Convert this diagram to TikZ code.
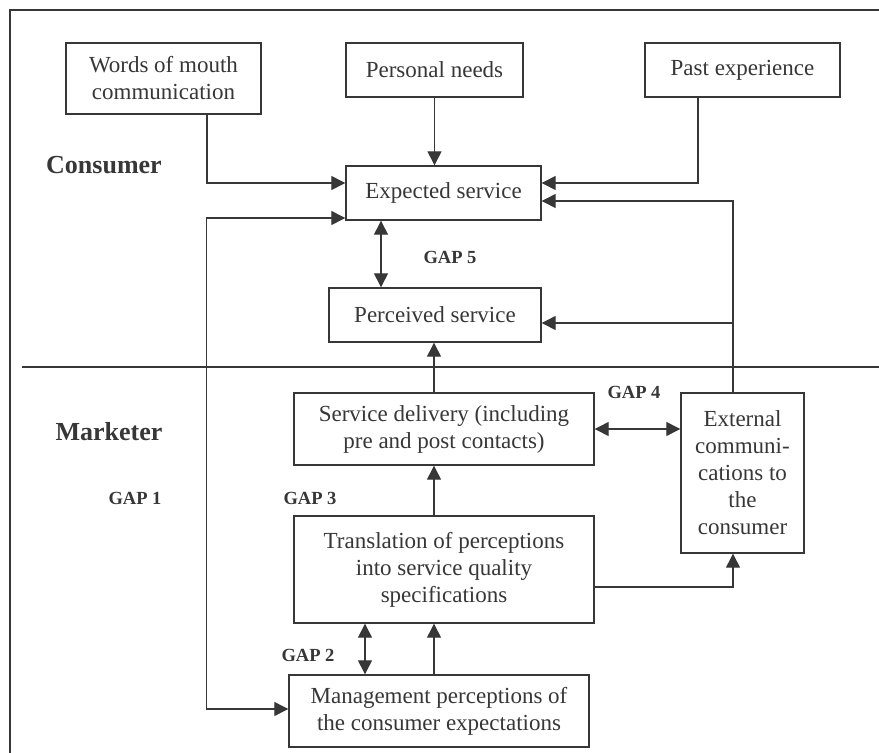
\documentclass[tikz,border=0pt]{standalone}
\usepackage{fontspec}
\setmainfont{Liberation Serif}
\usetikzlibrary{arrows.meta}
\definecolor{ink}{RGB}{55,55,55}
\begin{document}
\begin{tikzpicture}[x=1pt,y=-1pt,
 box/.style={draw=ink, line width=1.4pt, text=ink, align=center, inner sep=0pt, font=\fontsize{23}{27}\selectfont},
 conn/.style={draw=ink, line width=1.3pt},
 arr/.style={conn, -{Triangle[length=14pt,width=14pt]}},
 darr/.style={conn, {Triangle[length=14pt,width=14pt]}-{Triangle[length=14pt,width=14pt]}},
 gap/.style={text=ink, font=\bfseries\fontsize{18.5}{22}\selectfont},
 side/.style={text=ink, font=\bfseries\fontsize{26}{30}\selectfont}]
\useasboundingbox (0,0) rectangle (879,753);
\fill[white] (0,0) rectangle (879,753);
\draw[ink, line width=2pt] (10,760) -- (10,10) -- (890,10);
\draw[conn] (22,367) -- (890,367);

\node[box, minimum width=195pt, minimum height=71pt] (wom) at (163.5,78.5) {Words of mouth\\communication};
\node[box, minimum width=177pt, minimum height=54pt] (pn) at (434.5,70) {Personal needs};
\node[box, minimum width=195pt, minimum height=54pt] (pe) at (742.5,70) {Past experience};
\node[box, minimum width=195pt, minimum height=54pt] (es) at (443.5,193) {Expected service};
\node[box, minimum width=212pt, minimum height=54pt] (ps) at (435,315) {Perceived service};
\node[box, minimum width=300pt, minimum height=72pt] (sd) at (444,429) {Service delivery (including\\pre and post contacts)};
\node[box, minimum width=123pt, minimum height=160pt] (ec) at (742.5,473) {External\\communi-\\cations to\\the\\consumer};
\node[box, minimum width=300pt, minimum height=107pt] (tr) at (444,569.5) {Translation of perceptions\\into service quality\\specifications};
\node[box, minimum width=300pt, minimum height=72pt] (mp) at (439,711) {Management perceptions of\\the consumer expectations};

\node[side] (consumer) at (104,165) {Consumer};
\node[side] (marketer) at (109,432) {Marketer};
\node[gap] (g1) at (135,498) {GAP 1};
\node[gap] (g2) at (308,655) {GAP 2};
\node[gap] (g3) at (310,498) {GAP 3};
\node[gap] (g4) at (634,392) {GAP 4};
\node[gap] (g5) at (450,257) {GAP 5};

\draw[arr] ([xshift=43.5pt]wom.south) |- ([yshift=10pt]es.west);
\draw[arr] (pn.south) -- (pn.south |- es.north);
\draw[arr] ([xshift=-44.5pt]pe.south) |- ([yshift=10pt]es.east);
\coordinate (fb) at ([xshift=-9.5pt]ec.north);
\coordinate (pin) at ([yshift=-8pt]ps.east);
\draw[arr] (fb) |- ([yshift=-8pt]es.east);
\draw[arr] (fb |- pin) -- (pin);
\coordinate (g5top) at ([xshift=-62.5pt]es.south);
\draw[darr] (g5top) -- (g5top |- ps.north);
\coordinate (sdtop) at ([xshift=-10pt]sd.north);
\draw[arr] (sdtop) -- (sdtop |- ps.south);
\draw[darr] (sd.east) -- (sd.east -| ec.west);
\coordinate (trtop) at ([xshift=-10pt]tr.north);
\draw[arr] (trtop) -- (trtop |- sd.south);
\draw[arr] ([yshift=-17.5pt]tr.east) -| ([xshift=-9.5pt]ec.south);
\coordinate (g2bot) at ([xshift=-79pt]tr.south);
\draw[darr] (g2bot) -- (g2bot |- mp.north);
\coordinate (mptop) at ([xshift=-5pt]mp.north);
\draw[arr] (mptop) -- (mptop |- tr.south);
\draw[darr] ([yshift=-25pt]es.west) -- ++(-139,0) |- ([yshift=2pt]mp.west);
\end{tikzpicture}
\end{document}
